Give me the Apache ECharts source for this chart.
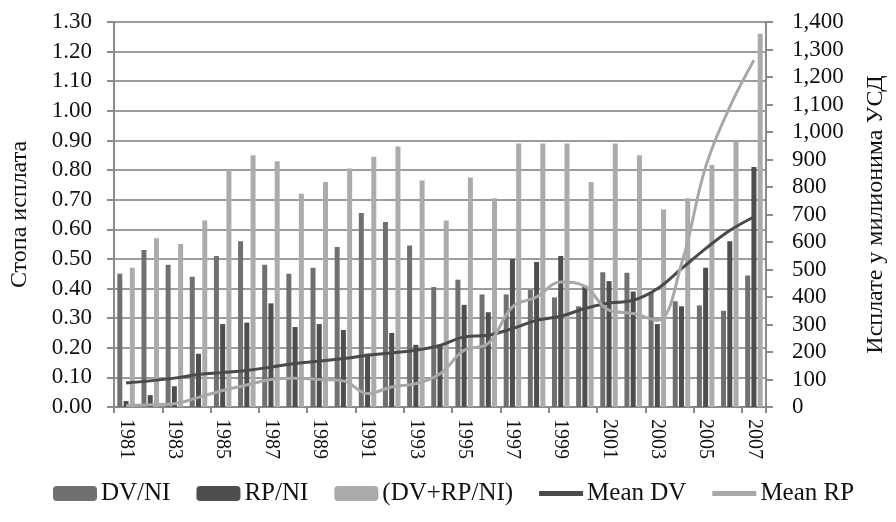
<!DOCTYPE html>
<html>
<head>
<meta charset="utf-8">
<script src="https://cdn.jsdelivr.net/npm/echarts@6/dist/echarts.min.js"></script>
<style>
  html, body { margin: 0; padding: 0; background: #fff; }
  #chart { width: 896px; height: 522px; }
</style>
</head>
<body>
<div id="chart"></div>
<script>
// године
var years = ['1981','1982','1983','1984','1985','1986','1987','1988','1989','1990','1991','1992','1993','1994',
             '1995','1996','1997','1998','1999','2000','2001','2002','2003','2004','2005','2006','2007'];
// стопе (лева оса)
var dvNi   = [0.45,0.53,0.48,0.44,0.51,0.56,0.48,0.45,0.47,0.54,0.655,0.625,0.545,0.405,0.43,0.38,0.38,0.395,0.37,0.34,0.455,0.453,0.385,0.357,0.343,0.325,0.444];
var rpNi   = [0.02,0.04,0.07,0.18,0.28,0.285,0.35,0.27,0.28,0.26,0.18,0.25,0.21,0.21,0.345,0.32,0.50,0.49,0.51,0.41,0.425,0.39,0.28,0.34,0.47,0.56,0.81];
var dvRpNi = [0.47,0.57,0.55,0.63,0.80,0.85,0.83,0.72,0.76,0.805,0.845,0.88,0.765,0.63,0.775,0.705,0.89,0.89,0.89,0.76,0.89,0.85,0.667,0.705,0.817,0.898,1.26];
// милиони УСД (десна оса)
var meanDv = [87,95,105,118,125,133,145,158,167,176,188,197,206,224,255,261,285,315,330,358,378,388,430,503,576,642,691];
var meanRp = [5,8,12,35,60,80,100,105,100,95,49,73,85,121,206,231,364,400,455,439,352,340,315,520,873,1091,1261];

var serif = 'Liberation Serif';
var lineIcon = 'path://M0,0H44V5H0Z';
var myChart = echarts.init(document.getElementById('chart'));
var option = {
    animation: false,
    textStyle: {fontFamily: serif},
    grid: {left: 106, right: 123, top: 22, bottom: 115},
    legend: {
        top: 476,
        left: 48,
        itemWidth: 44,
        itemHeight: 15,
        itemGap: 26,
        textStyle: {fontFamily: serif, fontSize: 25, color: '#111', padding: [0, 0, 0, -1]},
        data: [
            {name: 'DV/NI'},
            {name: 'RP/NI'},
            {name: '(DV+RP/NI)'},
            {name: 'Mean DV', icon: lineIcon},
            {name: 'Mean RP', icon: lineIcon}
        ]
    },
    xAxis: {
        type: 'category',
        data: years,
        axisLine: {lineStyle: {color: '#8a8a8a', width: 2}},
        axisTick: {show: true, length: 6, lineStyle: {color: '#8a8a8a', width: 2}},
        axisLabel: {interval: 1, rotate: -90, fontSize: 20, color: '#111', margin: 12}
    },
    yAxis: [{
        type: 'value',
        min: 0, max: 1.3, interval: 0.1,
        name: 'Стопа исплата',
        nameLocation: 'middle',
        nameGap: 82,
        nameTextStyle: {fontFamily: serif, fontSize: 24, color: '#111'},
        axisLine: {show: true, lineStyle: {color: '#8a8a8a', width: 2}},
        axisTick: {show: true, length: 7, lineStyle: {color: '#8a8a8a', width: 2}},
        splitLine: {lineStyle: {color: '#9c9c9c', width: 2}},
        axisLabel: {fontSize: 23, color: '#111', margin: 22, formatter: function (v) { return v.toFixed(2); }}
    }, {
        type: 'value',
        min: 0, max: 1400, interval: 100,
        name: 'Исплате у милионима УСД',
        nameLocation: 'middle',
        nameGap: 98,
        nameRotate: 90,
        nameTextStyle: {fontFamily: serif, fontSize: 24, color: '#111'},
        axisLine: {show: true, lineStyle: {color: '#8a8a8a', width: 2}},
        axisTick: {show: true, length: 7, lineStyle: {color: '#8a8a8a', width: 2}},
        splitLine: {show: false},
        axisLabel: {fontSize: 23, color: '#111', margin: 26, formatter: function (v) { return v.toLocaleString('en-US'); }}
    }],
    series: [
        {name: 'DV/NI', type: 'bar', data: dvNi, barWidth: 5, barGap: '25%', itemStyle: {color: '#707070'}},
        {name: 'RP/NI', type: 'bar', data: rpNi, barWidth: 5, barGap: '25%', itemStyle: {color: '#4e4e4e'}},
        {name: '(DV+RP/NI)', type: 'bar', data: dvRpNi, barWidth: 5, barGap: '25%', itemStyle: {color: '#ababad'}},
        {name: 'Mean DV', type: 'line', yAxisIndex: 1, data: meanDv, smooth: 0.4, symbol: 'none',
         lineStyle: {color: '#4a4a4a', width: 3}, itemStyle: {color: '#4a4a4a'}},
        {name: 'Mean RP', type: 'line', yAxisIndex: 1, data: meanRp, smooth: 0.4, symbol: 'none',
         lineStyle: {color: '#a8a8a8', width: 3}, itemStyle: {color: '#a8a8a8'}}
    ]
};
myChart.setOption(option);
</script>
</body>
</html>
